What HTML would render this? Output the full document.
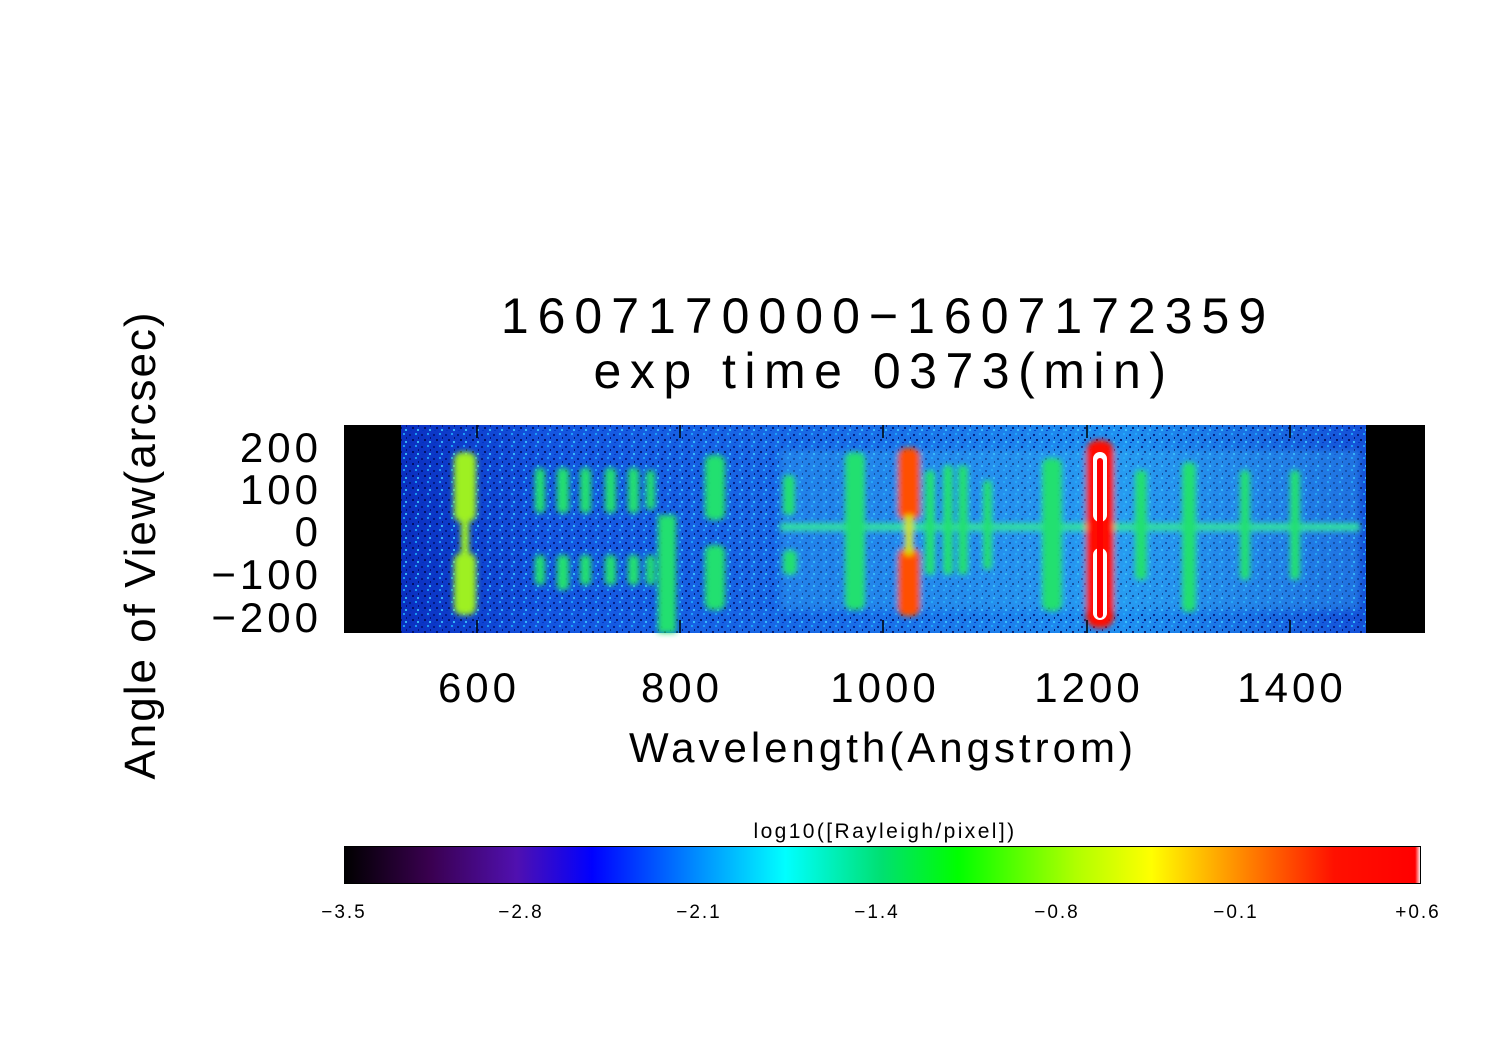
<!DOCTYPE html>
<html><head><meta charset="utf-8"><style>
html,body{margin:0;padding:0;background:#fff}
svg{display:block}
text{font-family:"Liberation Sans",sans-serif;fill:#000}
</style></head><body>
<svg width="1497" height="1058" viewBox="0 0 1497 1058" xmlns="http://www.w3.org/2000/svg">
<defs>
<filter id="blur"><feGaussianBlur stdDeviation="3"/></filter>
<pattern id="spk" width="12" height="12" patternUnits="userSpaceOnUse">
<rect x="1" y="2" width="2" height="2" fill="#001070"/><rect x="7" y="1" width="2" height="2" fill="#20b0ff"/>
<rect x="4" y="7" width="2" height="2" fill="#000850"/><rect x="9" y="9" width="2" height="2" fill="#40d0ff"/>
<rect x="2" y="10" width="2" height="1" fill="#0030c0"/><rect x="10" y="5" width="1" height="2" fill="#000a60"/>
</pattern>
<linearGradient id="bg" x1="0" x2="1" y1="0" y2="0">
<stop offset="0" stop-color="#0a2fc0"/><stop offset="0.15" stop-color="#1455e0"/>
<stop offset="0.5" stop-color="#1a70e8"/><stop offset="0.75" stop-color="#2090f0"/>
<stop offset="1" stop-color="#1450d8"/></linearGradient>
<linearGradient id="cb" x1="0" x2="1">
<stop offset="0" stop-color="#000"/><stop offset="0.08" stop-color="#3a0050"/>
<stop offset="0.16" stop-color="#5010b0"/><stop offset="0.23" stop-color="#0000ff"/>
<stop offset="0.33" stop-color="#0090ff"/><stop offset="0.41" stop-color="#00ffff"/>
<stop offset="0.5" stop-color="#00e070"/><stop offset="0.57" stop-color="#00ff00"/>
<stop offset="0.68" stop-color="#b0ff00"/><stop offset="0.75" stop-color="#ffff00"/>
<stop offset="0.84" stop-color="#ff8000"/><stop offset="0.92" stop-color="#ff1000"/>
<stop offset="0.995" stop-color="#ff0000"/><stop offset="1" stop-color="#fff"/></linearGradient>
</defs>
<rect x="344" y="425" width="1081" height="208" fill="#000"/>
<rect x="401" y="425" width="965" height="208" fill="url(#bg)"/>
<rect x="401" y="425" width="965" height="208" fill="url(#spk)" opacity="0.8"/>
<g filter="url(#blur)">
<rect x="780" y="450" width="580" height="160" fill="#30b0f0" opacity="0.35"/>
<rect x="780" y="523" width="580" height="8" fill="#30e0a0"/>
<g fill="#9ef020">
<rect x="454" y="452" width="22" height="70" rx="8"/><rect x="454" y="553" width="22" height="62" rx="8"/><rect x="461" y="515" width="8" height="45"/>
</g>
<g fill="#20e070">
<rect x="535" y="468" width="10" height="45" rx="4"/><rect x="535" y="555" width="10" height="30" rx="4"/>
<rect x="557" y="468" width="12" height="45" rx="4"/><rect x="557" y="555" width="12" height="35" rx="4"/>
<rect x="580" y="468" width="11" height="45" rx="4"/><rect x="580" y="555" width="11" height="30" rx="4"/>
<rect x="605" y="468" width="11" height="45" rx="4"/><rect x="605" y="555" width="11" height="30" rx="4"/>
<rect x="628" y="468" width="11" height="45" rx="4"/><rect x="628" y="555" width="11" height="30" rx="4"/>
<rect x="646" y="470" width="9" height="40" rx="4"/><rect x="646" y="555" width="9" height="30" rx="4"/>
<rect x="658" y="515" width="18" height="118"/>
<rect x="705" y="455" width="20" height="65" rx="7"/><rect x="705" y="545" width="20" height="65" rx="7"/>
<rect x="783" y="475" width="12" height="40" rx="4"/><rect x="783" y="550" width="14" height="25" rx="5"/>
<rect x="845" y="452" width="20" height="158" rx="7"/>
<rect x="925" y="470" width="10" height="105" rx="4"/><rect x="943" y="465" width="10" height="110" rx="4"/><rect x="958" y="465" width="10" height="110" rx="4"/>
<rect x="983" y="480" width="9" height="90" rx="4"/>
<rect x="1042" y="458" width="20" height="153" rx="7"/>
<rect x="1135" y="470" width="12" height="110" rx="4"/><rect x="1182" y="462" width="14" height="150" rx="5"/>
<rect x="1240" y="470" width="10" height="110" rx="4"/><rect x="1290" y="470" width="10" height="110" rx="4"/>
</g>
<g fill="#ff5000">
<rect x="898" y="448" width="22" height="72" rx="8"/><rect x="898" y="548" width="22" height="68" rx="8"/><rect x="905" y="515" width="8" height="40" fill="#d0e000"/>
</g>
<rect x="1086" y="440" width="28" height="188" rx="12" fill="#ff1000"/>
</g>
<rect x="1093" y="452" width="14" height="70" rx="7" fill="#fff"/>
<rect x="1093" y="548" width="14" height="72" rx="7" fill="#fff"/>
<rect x="1097" y="458" width="6" height="160" rx="3" fill="#ff0000"/>
<g stroke="#000" stroke-width="1.5">
<line x1="344" y1="447" x2="358" y2="447"/><line x1="344" y1="489" x2="358" y2="489"/><line x1="344" y1="531" x2="358" y2="531"/><line x1="344" y1="574" x2="358" y2="574"/><line x1="344" y1="617" x2="358" y2="617"/>
<line x1="1425" y1="447" x2="1411" y2="447"/><line x1="1425" y1="489" x2="1411" y2="489"/><line x1="1425" y1="531" x2="1411" y2="531"/><line x1="1425" y1="574" x2="1411" y2="574"/><line x1="1425" y1="617" x2="1411" y2="617"/>
<line x1="477" y1="633" x2="477" y2="620"/><line x1="680" y1="633" x2="680" y2="620"/><line x1="883" y1="633" x2="883" y2="620"/><line x1="1087" y1="633" x2="1087" y2="620"/><line x1="1290" y1="633" x2="1290" y2="620"/>
<line x1="477" y1="425" x2="477" y2="438"/><line x1="680" y1="425" x2="680" y2="438"/><line x1="883" y1="425" x2="883" y2="438"/><line x1="1087" y1="425" x2="1087" y2="438"/><line x1="1290" y1="425" x2="1290" y2="438"/>
</g>
<g font-size="42" text-anchor="end" letter-spacing="4">
<text x="322" y="462">200</text><text x="322" y="504">100</text><text x="322" y="546">0</text><text x="322" y="589">−100</text><text x="322" y="632">−200</text>
</g>
<g font-size="42" text-anchor="middle" letter-spacing="4">
<text x="479" y="702">600</text><text x="682" y="702">800</text><text x="885" y="702">1000</text><text x="1089" y="702">1200</text><text x="1292" y="702">1400</text>
<text x="883" y="762">Wavelength(Angstrom)</text>
<text x="888" y="333" font-size="50" letter-spacing="9">1607170000−1607172359</text>
<text x="884" y="388" font-size="50" letter-spacing="8.5">exp  time  0373(min)</text>
<text transform="translate(155,545) rotate(-90)" font-size="44" letter-spacing="2">Angle  of  View(arcsec)</text>
</g>
<text x="885" y="838" font-size="21" text-anchor="middle" letter-spacing="2.4">log10([Rayleigh/pixel])</text>
<rect x="344.5" y="846.5" width="1076" height="37" fill="url(#cb)" stroke="#000"/>
<g font-size="19" text-anchor="middle" letter-spacing="2">
<text x="344" y="918">−3.5</text><text x="521" y="918">−2.8</text><text x="699" y="918">−2.1</text><text x="877" y="918">−1.4</text><text x="1057" y="918">−0.8</text><text x="1236" y="918">−0.1</text><text x="1418" y="918">+0.6</text>
</g>
</svg>
</body></html>
